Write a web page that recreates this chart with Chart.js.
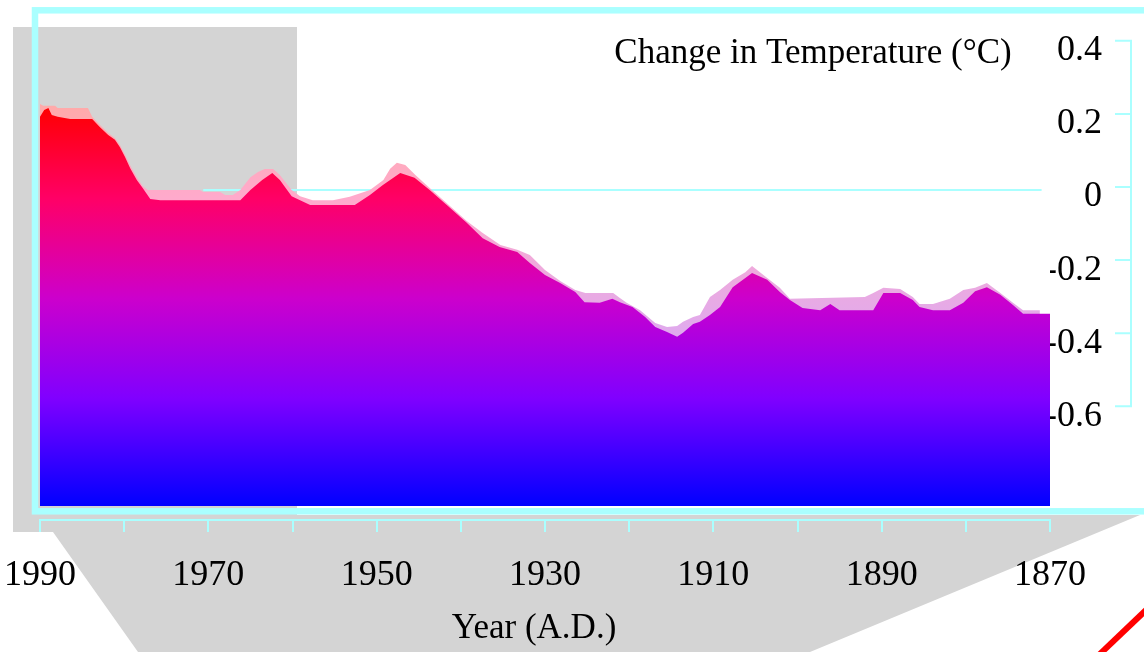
<!DOCTYPE html>
<html>
<head>
<meta charset="utf-8">
<script src="https://cdn.jsdelivr.net/npm/chart.js@4/dist/chart.umd.min.js"></script>
<style>
  html, body { margin: 0; padding: 0; background: #ffffff; }
  canvas { display: block; }
</style>
</head>
<body>
<canvas id="c" width="1144" height="652"></canvas>
<script>
// ---- data ----
const years = [1990,1989.5,1989,1988.6,1987.9,1986.4,1983.8,1982.9,1981.9,1981.1,1980.5,1979.9,1979.3,1978.5,1977.8,1976.9,1975.7,1966.2,1965.0,1963.6,1962.4,1961.5,1960.1,1959.1,1957.9,1952.6,1950.8,1949.3,1947.2,1945.5,1943.7,1941.3,1939.3,1937.4,1935.4,1933.3,1931.8,1930.0,1928.2,1926.4,1925.3,1923.5,1922.0,1921.1,1919.6,1918.1,1916.9,1915.5,1914.3,1913.6,1912.4,1911.6,1910.4,1909.2,1907.7,1906.2,1905.4,1903.6,1902.1,1900.9,1899.4,1897.3,1896.1,1895.0,1891.0,1889.8,1887.8,1886.3,1885.5,1883.9,1881.9,1880.3,1878.9,1877.5,1875.9,1874.4,1873.2,1870];
const temps = [0.192,0.211,0.216,0.197,0.192,0.186,0.186,0.164,0.142,0.129,0.109,0.082,0.052,0.019,-0.003,-0.033,-0.036,-0.036,-0.008,0.019,0.038,0.019,-0.025,-0.036,-0.049,-0.049,-0.022,0.005,0.038,0.025,-0.008,-0.057,-0.098,-0.140,-0.164,-0.178,-0.208,-0.241,-0.263,-0.287,-0.315,-0.317,-0.306,-0.315,-0.328,-0.356,-0.383,-0.397,-0.410,-0.399,-0.375,-0.369,-0.350,-0.328,-0.274,-0.249,-0.235,-0.254,-0.287,-0.309,-0.331,-0.337,-0.320,-0.337,-0.337,-0.290,-0.290,-0.309,-0.328,-0.337,-0.337,-0.317,-0.285,-0.274,-0.295,-0.323,-0.347,-0.347];

const yearsLight = [1990,1989.6,1988.2,1987.9,1984.3,1983.8,1982.9,1981.9,1981.1,1980.5,1979.9,1979.3,1978.5,1977.8,1977.2,1971.0,1970.6,1968.6,1968.0,1967.1,1966.2,1965.0,1964.1,1963.3,1962.3,1961.5,1960.1,1959.1,1957.6,1955.2,1953.2,1950.8,1949.2,1948.4,1947.6,1946.6,1945.4,1943.7,1941.3,1939.3,1937.4,1935.3,1933.3,1931.8,1930.0,1928.2,1926.4,1925.2,1921.9,1921.1,1920.3,1918.7,1916.9,1915.5,1914.3,1913.6,1912.4,1911.6,1910.4,1909.2,1907.7,1906.2,1905.4,1903.6,1902.1,1900.9,1892.0,1891.0,1889.8,1887.8,1886.3,1885.5,1883.9,1881.9,1880.3,1878.9,1877.5,1875.9,1874.4,1873.2,1871.2];
const tempsLight = [0.227,0.222,0.222,0.216,0.216,0.192,0.170,0.148,0.134,0.115,0.088,0.060,0.027,0.003,-0.008,-0.008,-0.014,-0.014,-0.022,-0.022,-0.008,0.027,0.041,0.049,0.049,0.033,-0.008,-0.025,-0.036,-0.036,-0.027,-0.008,0.019,0.050,0.066,0.060,0.033,-0.003,-0.052,-0.093,-0.126,-0.159,-0.172,-0.186,-0.227,-0.257,-0.282,-0.290,-0.290,-0.304,-0.317,-0.337,-0.372,-0.383,-0.380,-0.369,-0.356,-0.350,-0.301,-0.282,-0.254,-0.233,-0.216,-0.249,-0.276,-0.306,-0.301,-0.290,-0.276,-0.279,-0.301,-0.320,-0.320,-0.306,-0.282,-0.276,-0.263,-0.290,-0.317,-0.337,-0.337];

const xTicks = [1990,1980,1970,1960,1950,1940,1930,1920,1910,1900,1890,1880,1870];
const xLabelYears = [1990,1970,1950,1930,1910,1890,1870];
const yTicks = [0.4,0.2,0,-0.2,-0.4,-0.6];
const baseline = -0.873;
const yTitle = 'Change in Temperature (°C)';
const xTitle = 'Year (A.D.)';

// ---- styles ----
const CYAN = '#aaffff';
const GRAY = '#d4d4d4';
const SERIF = '"Liberation Serif", "Times New Roman", serif';
const mainStops = [[0,'#ff0000'],[0.23,'#ff0066'],[0.48,'#cc00cc'],[0.73,'#8000ff'],[1,'#0000ff']];
const lightStops = [[0,'#ffaaaa'],[0.23,'#ffaacc'],[0.48,'#e8aae4'],[0.73,'#d0aaff'],[1,'#aaaaff']];

function grad(chart, stops) {
  const {ctx, chartArea, scales} = chart;
  if (!chartArea || !scales.y) return stops[0][1];
  const y0 = scales.y.getPixelForValue(0.22);
  const y1 = scales.y.getPixelForValue(baseline);
  const g = ctx.createLinearGradient(0, y0, 0, y1);
  stops.forEach(([t, c]) => g.addColorStop(t, c));
  return g;
}

const decor = {
  id: 'decor',
  beforeDraw(chart) {
    const c = chart.ctx;
    c.save();
    c.fillStyle = '#ffffff';
    c.fillRect(0, 0, chart.width, chart.height);
    c.fillStyle = GRAY;
    c.fillRect(13, 27, 284, 505);
    c.beginPath();
    c.moveTo(13, 515); c.lineTo(1140, 515); c.lineTo(810, 652);
    c.lineTo(138, 652); c.lineTo(53, 532); c.lineTo(13, 532);
    c.closePath(); c.fill();
    c.restore();
  },
  beforeDatasetsDraw(chart) {
    const c = chart.ctx, x = chart.scales.x, y = chart.scales.y;
    c.save();
    c.strokeStyle = CYAN; c.lineWidth = 2;
    const zy = y.getPixelForValue(0) + 3;
    c.beginPath();
    c.moveTo(x.getPixelForValue(1970.6), zy);
    c.lineTo(x.getPixelForValue(1871), zy);
    c.stroke();
    c.restore();
  },
  afterDatasetsDraw(chart) {
    const c = chart.ctx, y = chart.scales.y;
    c.save();
    // frame
    c.strokeStyle = CYAN; c.lineWidth = 6.5;
    c.strokeRect(35, 10.3, 1120, 501);
    // right axis bracket
    c.lineWidth = 2;
    const yTop = y.getPixelForValue(yTicks[0]);
    const yBot = y.getPixelForValue(yTicks[yTicks.length - 1]);
    c.beginPath();
    c.moveTo(1131, yTop); c.lineTo(1131, yBot);
    yTicks.forEach(v => { const p = y.getPixelForValue(v); c.moveTo(1115, p); c.lineTo(1132, p); });
    c.stroke();
    // titles
    c.fillStyle = '#000000';
    c.font = '35px ' + SERIF;
    c.textAlign = 'center'; c.textBaseline = 'alphabetic';
    c.fillText(yTitle, 813, 63);
    c.fillText(xTitle, 534, 638);
    // red stroke bottom-right
    c.strokeStyle = '#ff0000'; c.lineWidth = 6;
    c.beginPath(); c.moveTo(1155, 601.5); c.lineTo(1095, 658.7); c.stroke();
    c.restore();
  }
};

new Chart(document.getElementById('c'), {
  type: 'line',
  data: {
    datasets: [
      {
        label: 'main',
        data: years.map((x, i) => ({x, y: temps[i]})),
        borderWidth: 0, pointRadius: 0, tension: 0,
        borderColor: 'rgba(0,0,0,0)',
        backgroundColor: ctx => grad(ctx.chart, mainStops),
        fill: {value: baseline}
      },
      {
        label: 'upper',
        data: yearsLight.map((x, i) => ({x, y: tempsLight[i]})),
        borderWidth: 0, pointRadius: 0, tension: 0,
        borderColor: 'rgba(0,0,0,0)',
        backgroundColor: ctx => grad(ctx.chart, lightStops),
        fill: {value: baseline}
      }
    ]
  },
  options: {
    responsive: false,
    animation: false,
    devicePixelRatio: 1,
    layout: { padding: { left: 40, top: 4.25, right: 42, bottom: 0 } },
    plugins: { legend: { display: false }, tooltip: { enabled: false } },
    scales: {
      x: {
        type: 'linear', reverse: true, min: 1870, max: 1990,
        afterBuildTicks: s => { s.ticks = xTicks.map(v => ({value: v})); },
        afterFit: s => { s.height = 132; s.paddingLeft = 0; s.paddingRight = 0; },
        ticks: {
          autoSkip: false, maxRotation: 0, color: '#000000', padding: 22,
          font: { family: SERIF, size: 36 },
          callback: v => xLabelYears.includes(v) ? String(v) : ''
        },
        grid: { drawOnChartArea: false, drawTicks: true, tickLength: 12, color: CYAN, lineWidth: 2 },
        border: { display: true, color: CYAN, width: 2 }
      },
      y: {
        position: 'right', min: -0.9111, max: 0.5, z: 1,
        afterBuildTicks: s => { s.ticks = yTicks.map(v => ({value: v})); },
        afterFit: s => { s.width = 52; s.paddingTop = 0; s.paddingBottom = 0; },
        ticks: {
          color: '#000000', crossAlign: 'far', padding: 0, labelOffset: 10,
          font: { family: SERIF, size: 36 },
          callback: v => v === 0 ? '0' : v.toFixed(1)
        },
        grid: { display: false, drawTicks: false },
        border: { display: false }
      }
    }
  },
  plugins: [decor]
});
</script>
</body>
</html>
